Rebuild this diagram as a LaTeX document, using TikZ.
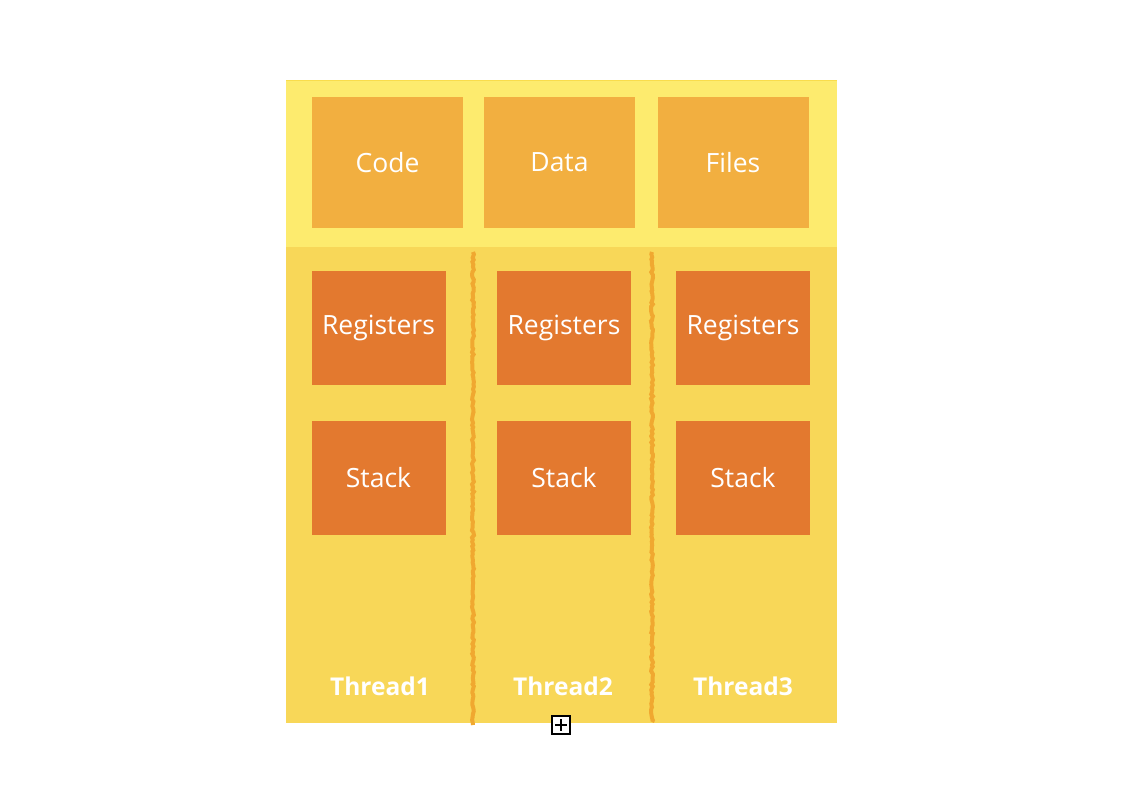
\documentclass[tikz,border=0pt]{standalone}
\usepackage{fontspec}
\setmainfont{Open Sans}
\usetikzlibrary{decorations.pathmorphing,calc}
\definecolor{topbg}{HTML}{FDEB6E}
\definecolor{topline}{HTML}{F9DC4C}
\definecolor{botbg}{HTML}{F8D758}
\definecolor{sharedbox}{HTML}{F2AF40}
\definecolor{threadbox}{HTML}{E3792F}
\definecolor{sepcol}{HTML}{F0A830}
\tikzset{
  sharedstyle/.style={fill=sharedbox, draw=none, minimum width=151pt, minimum height=131pt, inner sep=0pt, text=white, font=\fontsize{26.5}{30}\selectfont},
  threadstyle/.style={fill=threadbox, draw=none, minimum width=134pt, minimum height=114pt, inner sep=0pt, text=white, font=\fontsize{26.5}{30}\selectfont},
  labelstyle/.style={text=white, font=\bfseries\fontsize{24.5}{28}\selectfont, inner sep=0pt},
  sepline/.style={draw=sepcol, line width=4pt, decorate, decoration={random steps, segment length=2.5pt, amplitude=1pt}}
}
\begin{document}
\begin{tikzpicture}[x=1pt,y=-1pt]
\useasboundingbox (0,0) rectangle (1126,784);
\fill[white] (0,0) rectangle (1126,784);
% backgrounds
\fill[botbg] (286,247) rectangle (837,723);
\fill[topbg] (286,80) rectangle (837,247);
\draw[topline, line width=1.5pt] (286,80.5) -- (837,80.5);
% separators
\coordinate (s1a) at (473,252); \coordinate (s1b) at (473,725);
\coordinate (s2a) at (652,252); \coordinate (s2b) at (652,722);
\draw[sepline] (s1a) -- (s1b);
\draw[sepline] (s2a) -- (s2b);
% shared
\node[sharedstyle] (code) at (387.5,162.5) {Code};
\node[sharedstyle] (data) at (559.5,162.5) {Data};
\node[sharedstyle] (files) at (733,162.5) {Files};
% thread boxes
\node[threadstyle] (r1) at (378.5,328) {Registers};
\node[threadstyle] (r2) at (564,328) {Registers};
\node[threadstyle] (r3) at (743,328) {Registers};
\node[threadstyle] (st1) at (378.5,478) {Stack};
\node[threadstyle] (st2) at (564,478) {Stack};
\node[threadstyle] (st3) at (743,478) {Stack};
% labels
\node[labelstyle] (t1) at (380,686) {Thread1};
\node[labelstyle] (t2) at (563,686) {Thread2};
\node[labelstyle] (t3) at (743,686) {Thread3};
% plus box
\node[draw=black, fill=white, line width=1.5pt, minimum size=18pt, inner sep=0pt] (plus) at (561,725) {};
\draw[line width=1.5pt] ($(plus.center)+(-6,0)$) -- ($(plus.center)+(6,0)$);
\draw[line width=1.5pt] ($(plus.center)+(0,-6)$) -- ($(plus.center)+(0,6)$);
\end{tikzpicture}
\end{document}
